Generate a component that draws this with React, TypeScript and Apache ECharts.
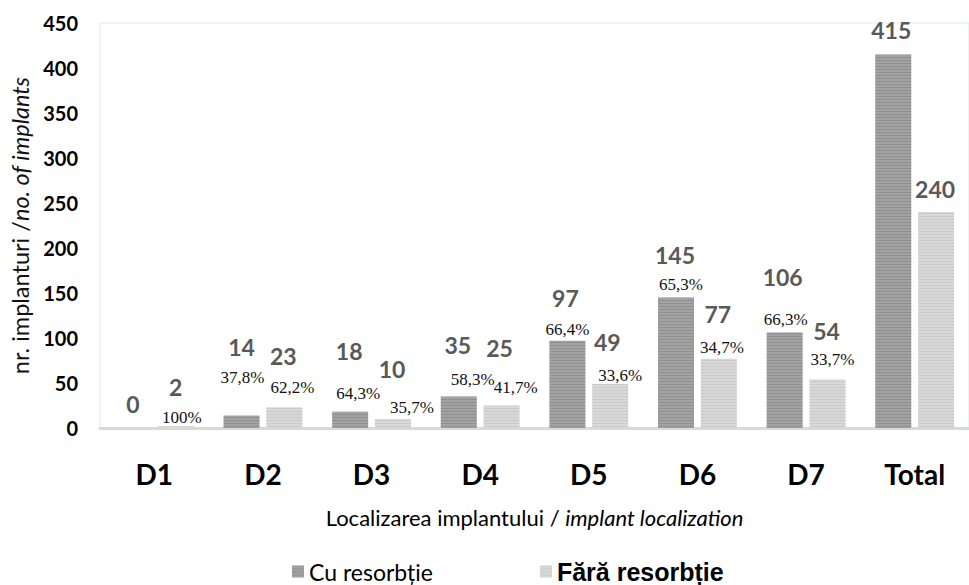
import React, { useEffect, useRef } from "react";
import * as echarts from "echarts";

const categories = ["D1", "D2", "D3", "D4", "D5", "D6", "D7", "Total"];
const cuResorbtie = [0, 14, 18, 35, 97, 145, 106, 415];
const faraResorbtie = [2, 23, 10, 25, 49, 77, 54, 240];
const cuPct = ["", "37,8%", "64,3%", "58,3%", "66,4%", "65,3%", "66,3%", ""];
const faraPct = ["100%", "62,2%", "35,7%", "41,7%", "33,6%", "34,7%", "33,7%", ""];
const yMin = 0;
const yMax = 450;
const yInterval = 50;

// manual label placements (style only, in px)
const cuValueOffsets = [[0, -13], [0, -57], [-1, -49], [-1, -40], [-2, -31], [-1, -31], [-2, -44], [-2, -13]];
const faraValueOffsets = [[0, -28], [-1, -40], [-1, -39], [-2, -46], [-3, -30], [-1, -33], [-1, -37], [-1, -12]];
const cuPctOffsets = [[0, 0], [1, -29], [8, -10], [14, -9], [0, -3], [5, -5], [1, -5], [0, 0]];
const faraPctOffsets = [[6, 0], [8, -11], [19, -3], [14, -10], [10, 0], [3, -3], [5, -11], [0, 0]];

const FONT = "Lato";

export default function App() {
  const ref = useRef<HTMLDivElement>(null);
  useEffect(() => {
    document.body.style.margin = "0";
    if (!ref.current) return;
    const chart = echarts.init(ref.current, undefined, { renderer: "svg" });

    const valueLabel = {
      show: true,
      position: "top",
      distance: 0,
      fontFamily: FONT,
      fontWeight: "bold",
      fontSize: 23,
      lineHeight: 23,
      color: "#595959",
    };
    const pctLabel = {
      show: true,
      position: "top",
      distance: 0,
      fontFamily: "Liberation Serif",
      fontSize: 17,
      lineHeight: 17,
      color: "#111",
    };

    const cuDecal = {
      symbol: "rect",
      symbolSize: 1,
      dashArrayX: [[1, 0]],
      dashArrayY: [1, 2],
      color: "rgba(110,110,110,0.35)",
      rotation: 0,
    };
    const faraDecal = {
      symbol: "rect",
      symbolSize: 1,
      dashArrayX: [[1, 0]],
      dashArrayY: [1, 2],
      color: "rgba(170,170,170,0.3)",
      rotation: 0,
    };

    const option: any = {
      animation: false,
      grid: {
        left: 100,
        right: -11,
        top: 23,
        bottom: 157,
        show: true,
        borderColor: "#e2e7ee",
        borderWidth: 1,
        containLabel: false,
      },
      legend: {
        left: 292,
        top: 559,
        padding: 0,
        itemWidth: 12,
        itemHeight: 12,
        itemGap: 107,
        icon: "rect",
        data: [
          { name: "Cu resorbție", textStyle: { fontFamily: FONT, fontSize: 23, color: "#000" } },
          {
            name: "Fără resorbție",
            textStyle: { fontFamily: "Liberation Sans", fontSize: 25, fontWeight: "bold", color: "#000" },
          },
        ],
      },
      xAxis: [
        {
          type: "category",
          data: categories,
          axisLine: { show: true, lineStyle: { color: "#d9d9d9", width: 3 } },
          axisTick: { show: false },
          axisLabel: {
            fontFamily: FONT,
            fontWeight: "bold",
            fontSize: 28,
            color: "#000",
            margin: 32,
          },
          name: "{a|Localizarea implantului / }{b|implant localization}",
          nameLocation: "middle",
          nameGap: 78,
          nameTextStyle: {
            rich: {
              a: { fontFamily: FONT, fontSize: 22, color: "#000" },
              b: { fontFamily: FONT, fontSize: 22, fontStyle: "italic", color: "#000" },
            },
          },
        },
        {
          type: "category",
          data: categories,
          show: false,
        },
      ],
      yAxis: {
        type: "value",
        min: yMin,
        max: yMax,
        interval: yInterval,
        axisLine: { show: false },
        axisTick: { show: false },
        splitLine: { show: false },
        axisLabel: {
          fontFamily: FONT,
          fontWeight: "bold",
          fontSize: 20,
          color: "#000",
          margin: 22,
        },
        name: "{a|nr. implanturi /}{b|no. of implants}",
        nameLocation: "middle",
        nameRotate: 90,
        nameGap: 64,
        nameTextStyle: {
          rich: {
            a: { fontFamily: FONT, fontSize: 23.5, color: "#111" },
            b: { fontFamily: FONT, fontSize: 23.5, fontStyle: "italic", color: "#111" },
          },
        },
      },
      series: [
        {
          name: "Cu resorbție",
          type: "bar",
          xAxisIndex: 0,
          barWidth: 36,
          barGap: "19%",
          itemStyle: { color: "#a2a2a2", decal: cuDecal },
          data: cuResorbtie.map((v, i) => ({ value: v, label: { ...valueLabel, offset: cuValueOffsets[i] } })),
        },
        {
          name: "Fără resorbție",
          type: "bar",
          xAxisIndex: 0,
          barWidth: 36,
          barGap: "19%",
          itemStyle: { color: "#d8d8d8", decal: faraDecal },
          data: faraResorbtie.map((v, i) => ({ value: v, label: { ...valueLabel, offset: faraValueOffsets[i] } })),
        },
        {
          name: "cuPct",
          type: "bar",
          xAxisIndex: 1,
          barWidth: 36,
          barGap: "19%",
          silent: true,
          itemStyle: { color: "rgba(0,0,0,0)" },
          data: cuResorbtie.map((v, i) => ({
            value: v,
            label: { ...pctLabel, offset: cuPctOffsets[i], formatter: () => cuPct[i] },
          })),
        },
        {
          name: "faraPct",
          type: "bar",
          xAxisIndex: 1,
          barWidth: 36,
          barGap: "19%",
          silent: true,
          itemStyle: { color: "rgba(0,0,0,0)" },
          data: faraResorbtie.map((v, i) => ({
            value: v,
            label: { ...pctLabel, offset: faraPctOffsets[i], formatter: () => faraPct[i] },
          })),
        },
      ],
    };
    chart.setOption(option);
    return () => chart.dispose();
  }, []);
  return <div ref={ref} style={{ width: 969, height: 585 }} />;
}
